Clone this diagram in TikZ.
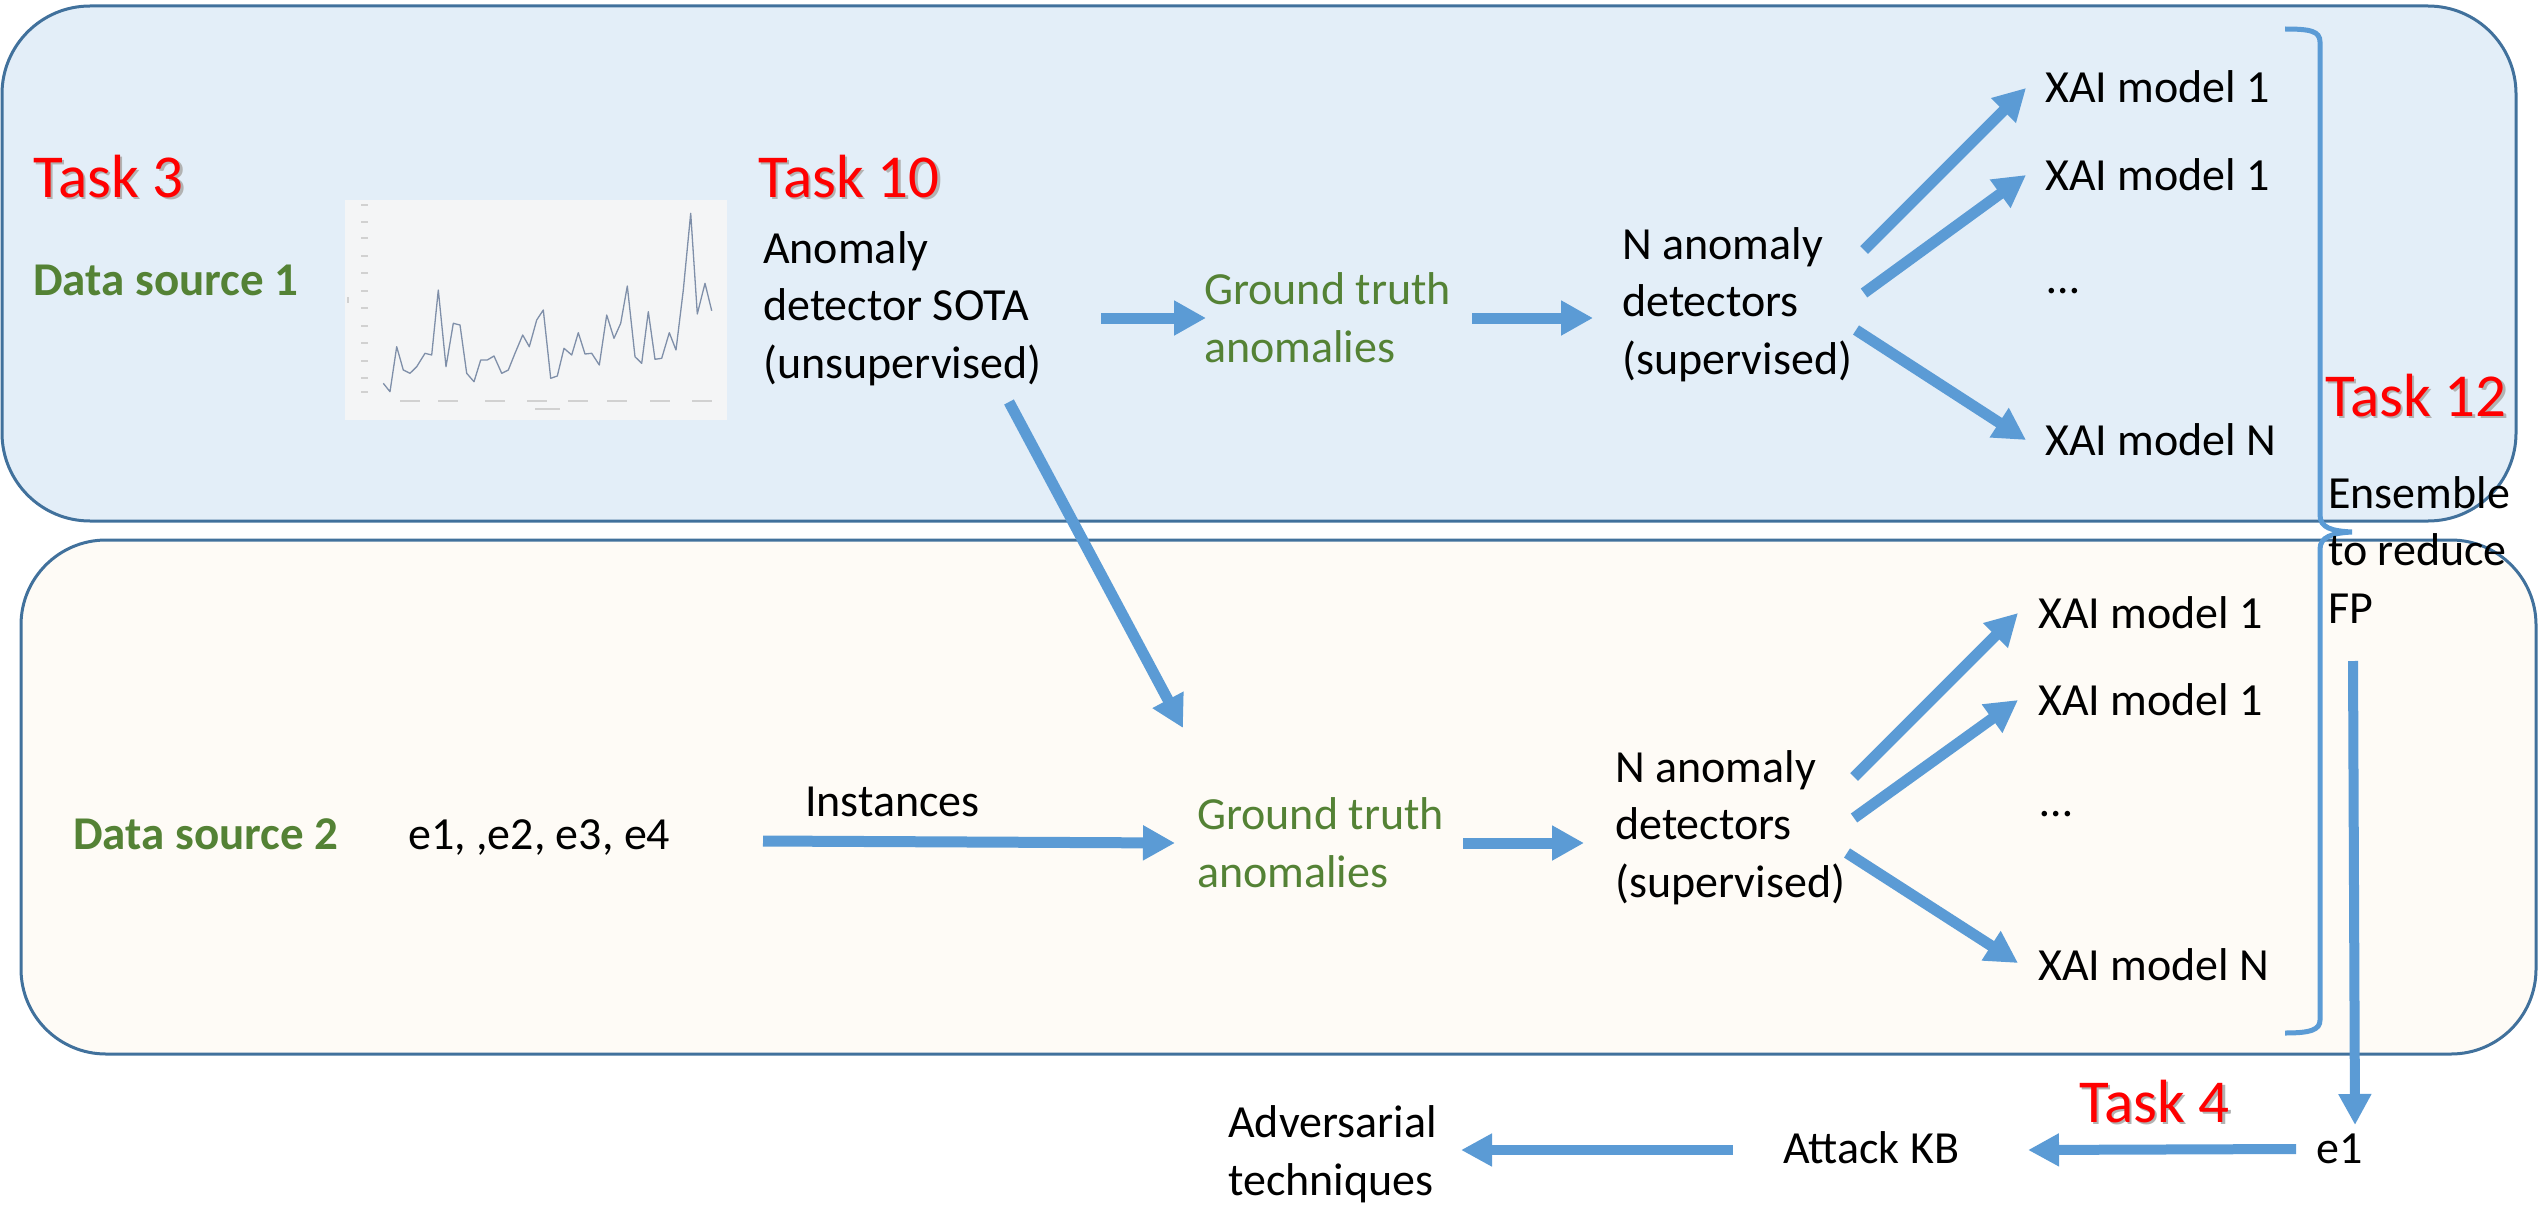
\documentclass[tikz,border=0pt]{standalone}
\usepackage{fontspec}
\setmainfont{Carlito}
\usetikzlibrary{arrows.meta}

\definecolor{flowblue}{HTML}{5B9BD5}
\definecolor{frameblue}{HTML}{41719C}
\definecolor{paneblue}{HTML}{E3EEF8}
\definecolor{panecream}{HTML}{FEFBF6}
\definecolor{srcgreen}{HTML}{548235}
\definecolor{taskred}{HTML}{FF0000}
\definecolor{chartbg}{HTML}{F4F5F6}
\definecolor{chartline}{HTML}{7F8FA9}

% red task label with a soft drop shadow
\newcommand\shadowed[1]{\makebox[0pt][l]{\hspace{2.5pt}\raisebox{-2.5pt}{\color{black!30}#1}}#1}

\begin{document}
\begin{tikzpicture}[x=1pt,y=-1pt,
  pane/.style={draw=frameblue, line width=3pt},
  % multi-line labels are placed by the baseline of their last line
  txt/.style={inner sep=0pt, anchor=base west, align=left,
              font=\fontsize{46}{57.5}\selectfont},
  gtxt/.style={txt, text=srcgreen},
  srclbl/.style={txt, text=srcgreen, font=\fontsize{47}{57}\selectfont\bfseries},
  tasklbl/.style={inner sep=0pt, anchor=base west, text=taskred,
              font=\fontsize{61}{70}\selectfont},
  flow/.style={draw=flowblue, line width=11pt,
              -{Triangle[length=32pt,width=33pt]}},
  thinflow/.style={draw=flowblue, line width=10pt,
              -{Triangle[length=31pt,width=31pt]}},
  tick/.style={draw=black!18, line width=1.6pt}
]
\useasboundingbox (0,0) rectangle (2539,1204);

% the two data-source panes
\draw[pane, fill=paneblue, rounded corners=88pt] (2,6) rectangle (2516,521);
\draw[pane, fill=panecream, rounded corners=85pt] (21,540) rectangle (2536,1054);

% small time-series chart of data source 1
\fill[chartbg] (345,200) rectangle (727,420);
\foreach \yy in {205,222,238,256,273,291,308,326,343,361,378,392}
  \draw[tick] (361,\yy) -- (368,\yy);
\foreach \xx in {410,448,495,537,578,617,660,702}
  \draw[tick] (\xx-10,401) -- (\xx+10,401);
\draw[tick] (535,409) -- (560,409);
\draw[tick] (348,297) -- (348,303);
\draw[chartline, line width=1.3pt, line join=round]
  (383.3,383.3) -- (390,391.7) -- (396.7,346.7) -- (403.3,370) -- (410,373.3)
  -- (416.7,366.7) -- (425,353.3) -- (431.7,355) -- (438.3,290) -- (446,366.7)
  -- (453.3,323.3) -- (460,325) -- (466.7,373.3) -- (474,381.7) -- (480.7,360)
  -- (487.3,360) -- (494,356) -- (501.7,373.3) -- (508.3,370) -- (515,353.3)
  -- (522.7,335) -- (529.3,346.7) -- (536.7,320) -- (543.3,310) -- (550.7,378.3)
  -- (557.3,376) -- (564,348.3) -- (571.7,355) -- (578.3,332.7) -- (585,354)
  -- (591.7,353.3) -- (599.3,365) -- (606.7,315) -- (614,338.3) -- (620.7,323.3)
  -- (627.3,286) -- (635,356.7) -- (641.7,363.3) -- (648.3,311.7) -- (655,359.3)
  -- (661.7,358.3) -- (669.3,332.7) -- (676,350) -- (683.3,290) -- (690.7,213.3)
  -- (697.3,314) -- (705,283.3) -- (711.7,310.7);

% ensemble brace
\draw[flowblue, line width=5pt]
  (2285,29) .. controls (2310,29) and (2320,31) .. (2320,42)
  -- (2320,515) .. controls (2320,528) and (2332,531) .. (2352,532)
  .. controls (2332,533) and (2320,537) .. (2320,549)
  -- (2320,1020) .. controls (2320,1030) and (2310,1033) .. (2285,1033);

% labels of the upper pane
\node[tasklbl] (task3) at (33,197) {\shadowed{Task 3}};
\node[srclbl] (ds1) at (33,295) {Data source 1};
\node[tasklbl] (task10) at (758,197) {\shadowed{Task 10}};
\node[txt] (anom) at (763,378) {Anomaly\\detector SOTA\\(unsupervised)};
\node[gtxt] (gt1) at (1204,362) {Ground truth\\anomalies};
\node[txt] (nad1) at (1622,374) {N anomaly\\detectors\\(supervised)};
\node[txt] (xai1a) at (2045,103) {XAI model 1};
\node[txt] (xai1b) at (2045,190) {XAI model 1};
\node[txt] (dots1) at (2047,293) {…};
\node[txt] (xai1n) at (2045,455) {XAI model N};
\node[tasklbl] (task12) at (2325,416) {\shadowed{Task 12}};
\node[txt] (ens) at (2328,623) {Ensemble\\to reduce\\FP};

% labels of the lower pane
\node[srclbl] (ds2) at (73,849) {Data source 2};
\node[txt] (inst) at (408,849) {e1, ,e2, e3, e4};
\node[txt] (instlbl) at (805,816) {Instances};
\node[gtxt] (gt2) at (1197,887) {Ground truth\\anomalies};
\node[txt] (nad2) at (1615,897) {N anomaly\\detectors\\(supervised)};
\node[txt] (xai2a) at (2038,628) {XAI model 1};
\node[txt] (xai2b) at (2038,715) {XAI model 1};
\node[txt] (dots2) at (2040,816) {…};
\node[txt] (xai2n) at (2038,980) {XAI model N};

% attack knowledge-base row
\node[txt] (e1) at (2316,1163) {e1};
\node[tasklbl] (task4) at (2079,1122) {\shadowed{Task 4}};
\node[txt] (kb) at (1783,1163) {Attack KB};
\node[txt] (adv) at (1228,1195) {Adversarial\\techniques};

% connector end points
\coordinate (anomOut) at (1101,318);  \coordinate (gt1In) at (1206,318);
\coordinate (gt1Out) at (1472,318);   \coordinate (nad1In) at (1593,318);
\coordinate (n1a) at (1864,250);      \coordinate (x1a) at (2026,88);
\coordinate (n1b) at (1864,293);      \coordinate (x1b) at (2026,175);
\coordinate (n1c) at (1856,330);      \coordinate (x1c) at (2026,440);
\coordinate (anomDown) at (1009,402); \coordinate (gt2Top) at (1183,728);
\coordinate (instOut) at (763,841);   \coordinate (gt2In) at (1175,843);
\coordinate (gt2Out) at (1463,843);   \coordinate (nad2In) at (1584,843);
\coordinate (n2a) at (1854,777);      \coordinate (x2a) at (2018,613);
\coordinate (n2b) at (1854,818);      \coordinate (x2b) at (2018,700);
\coordinate (n2c) at (1847,853);      \coordinate (x2c) at (2018,963);
\coordinate (ensOut) at (2353,661);   \coordinate (e1In) at (2355,1125);
\coordinate (e1Out) at (2296,1149);   \coordinate (kbIn) at (2028,1150);
\coordinate (kbOut) at (1733,1150);   \coordinate (advIn) at (1461,1150);

% connectors
\draw[flow] (anomOut) -- (gt1In);
\draw[flow] (gt1Out) -- (nad1In);
\draw[flow] (n1a) -- (x1a);
\draw[flow] (n1b) -- (x1b);
\draw[flow] (n1c) -- (x1c);
\draw[flow] (anomDown) -- (gt2Top);
\draw[flow] (instOut) -- (gt2In);
\draw[flow] (gt2Out) -- (nad2In);
\draw[flow] (n2a) -- (x2a);
\draw[flow] (n2b) -- (x2b);
\draw[flow] (n2c) -- (x2c);
\draw[thinflow] (ensOut) -- (e1In);
\draw[thinflow] (e1Out) -- (kbIn);
\draw[thinflow] (kbOut) -- (advIn);
\end{tikzpicture}
\end{document}
